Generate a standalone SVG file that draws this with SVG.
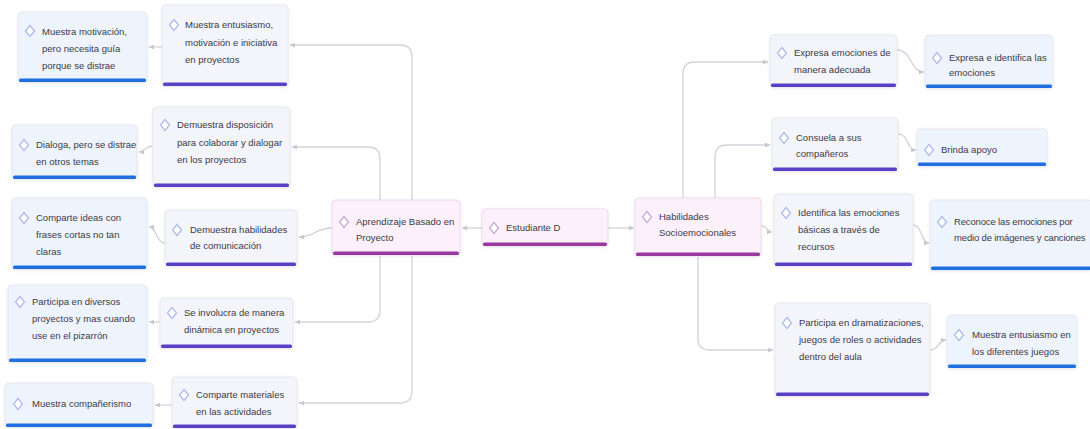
<svg xmlns="http://www.w3.org/2000/svg" width="1090" height="429" viewBox="0 0 1090 429">
<defs>
<filter id="sh" x="-10%" y="-10%" width="120%" height="130%">
<feDropShadow dx="0" dy="1" stdDeviation="1.5" flood-color="#9090a8" flood-opacity="0.22"/>
</filter>
<marker id="ar" viewBox="0 0 6 6" refX="6" refY="3" markerWidth="5" markerHeight="5" markerUnits="userSpaceOnUse" orient="auto">
<path d="M0,0 L6,3 L0,6 Z" fill="#c8c8d0"/>
</marker>
<path id="dm" d="M0,-5.5 L4.5,0 L0,5.5 L-4.5,0 Z"/>
</defs>
<style>
text{font-family:"Liberation Sans",Arial,sans-serif;font-size:9.5px;fill:#3a3a46}
.box{stroke:#e4e4ee;stroke-width:0.8;filter:url(#sh)}
.blue .box{fill:#eef4fd}
.purple .box{fill:#f4f4fb}
.center .box{fill:#fcf0fa;stroke:#f0d4ec}
.blue .bar{fill:#1f6fe0}
.purple .bar{fill:#5a40c6}
.center .bar{fill:#98399f}
.ic{fill:#ffffff;stroke:#aab8ee;stroke-width:1.2}
.center .ic{stroke:#c8a6d8}
.tight{letter-spacing:-0.15px}
.conn path{fill:none;stroke:#d2d2da;stroke-width:1.3;marker-end:url(#ar)}
</style>

<g id="connectors" class="conn">
<path d="M482,228 H462"/>
<path d="M608,228 H634"/>
<path d="M412,200 V57 Q412,45 400,45 H290"/>
<path d="M380,200 V159 Q380,147 368,147 H292"/>
<path d="M332,228 C315,228 315,237 299,237"/>
<path d="M380,256 V310 Q380,322 368,322 H295"/>
<path d="M412,256 V391 Q412,403 400,403 H299"/>
<path d="M683,198 V74 Q683,62 695,62 H768"/>
<path d="M715,198 V157 Q715,145 727,145 H770"/>
<path d="M761,226 C768,226 767,232 772,232"/>
<path d="M698,257 V338 Q698,350 710,350 H773"/>
<path d="M162,47 H149"/>
<path d="M153,146 C145,146 145,152 139,152"/>
<path d="M165,243 C156,243 157,227 149,227"/>
<path d="M160,322 H149"/>
<path d="M172,405 H155"/>
<path d="M897,50 C912,50 910,72 924,72"/>
<path d="M898,134 C909,134 906,150 916,150"/>
<path d="M913,225 C922,225 921,243 929,243"/>
<path d="M930,350 C939,350 938,340 946,340"/>
</g>

<!-- Left leaves -->
<g id="n-l1" class="blue">
<rect class="box" x="18" y="12" width="129" height="70" rx="4"/>
<rect class="bar" x="19" y="78.5" width="127" height="3.5" rx="1.5"/>
<use href="#dm" class="ic" x="30" y="31"/>
<text x="42" y="35">Muestra motivación,</text>
<text x="42" y="52">pero necesita guía</text>
<text x="42" y="69">porque se distrae</text>
</g>
<g id="n-l2" class="blue">
<rect class="box" x="12" y="125" width="125" height="54" rx="4"/>
<rect class="bar" x="13" y="175.5" width="123" height="3.5" rx="1.5"/>
<use href="#dm" class="ic" x="24" y="145"/>
<text x="36" y="148">Dialoga, pero se distrae</text>
<text x="36" y="165">en otros temas</text>
</g>
<g id="n-l3" class="blue">
<rect class="box" x="12" y="198" width="135" height="71" rx="4"/>
<rect class="bar" x="13" y="265.5" width="133" height="3.5" rx="1.5"/>
<use href="#dm" class="ic" x="24" y="218"/>
<text x="36" y="221">Comparte ideas con</text>
<text x="36" y="238">frases cortas no tan</text>
<text x="36" y="255">claras</text>
</g>
<g id="n-l4" class="blue">
<rect class="box" x="8" y="285" width="139" height="77" rx="4"/>
<rect class="bar" x="9" y="358.5" width="137" height="3.5" rx="1.5"/>
<use href="#dm" class="ic" x="20" y="302"/>
<text x="32" y="305">Participa en diversos</text>
<text x="32" y="322">proyectos y mas cuando</text>
<text x="32" y="339">use en el pizarrón</text>
</g>
<g id="n-l5" class="blue">
<rect class="box" x="5" y="383" width="148" height="44" rx="4"/>
<rect class="bar" x="6" y="423.5" width="146" height="3.5" rx="1.5"/>
<use href="#dm" class="ic" x="18" y="404"/>
<text x="32" y="407">Muestra compañerismo</text>
</g>

<!-- Middle-left column -->
<g id="n-m1" class="purple">
<rect class="box" x="162" y="5" width="126" height="81" rx="4"/>
<rect class="bar" x="163" y="82.5" width="124" height="3.5" rx="1.5"/>
<use href="#dm" class="ic" x="174" y="25"/>
<text x="185" y="28">Muestra entusiasmo,</text>
<text x="185" y="45.5">motivación e iniciativa</text>
<text x="185" y="63">en proyectos</text>
</g>
<g id="n-m2" class="purple">
<rect class="box" x="153" y="107" width="137" height="80" rx="4"/>
<rect class="bar" x="154" y="183.5" width="135" height="3.5" rx="1.5"/>
<use href="#dm" class="ic" x="165" y="125"/>
<text x="177" y="128">Demuestra disposición</text>
<text x="177" y="146">para colaborar y dialogar</text>
<text x="177" y="163">en los proyectos</text>
</g>
<g id="n-m3" class="purple">
<rect class="box" x="165" y="210" width="132" height="56" rx="4"/>
<rect class="bar" x="166" y="262.5" width="130" height="3.5" rx="1.5"/>
<use href="#dm" class="ic" x="177" y="230"/>
<text x="190" y="233">Demuestra habilidades</text>
<text x="190" y="249">de comunicación</text>
</g>
<g id="n-m4" class="purple">
<rect class="box" x="160" y="298" width="133" height="50" rx="4"/>
<rect class="bar" x="161" y="344.5" width="131" height="3.5" rx="1.5"/>
<use href="#dm" class="ic" x="172" y="313"/>
<text x="184" y="316">Se involucra de manera</text>
<text x="184" y="333">dinámica en proyectos</text>
</g>
<g id="n-m5" class="purple">
<rect class="box" x="172" y="377" width="125" height="51" rx="4"/>
<rect class="bar" x="173" y="424.5" width="123" height="3.5" rx="1.5"/>
<use href="#dm" class="ic" x="184" y="395"/>
<text x="196" y="398">Comparte materiales</text>
<text x="196" y="415">en las actividades</text>
</g>

<!-- Center -->
<g id="n-abp" class="center">
<rect class="box" x="332" y="200" width="128" height="55" rx="4"/>
<rect class="bar" x="333" y="251.5" width="126" height="3.5" rx="1.5"/>
<use href="#dm" class="ic" x="344" y="222"/>
<text x="356" y="225">Aprendizaje Basado en</text>
<text x="356" y="241">Proyecto</text>
</g>
<g id="n-root" class="center">
<rect class="box" x="482" y="209" width="126" height="37" rx="4"/>
<rect class="bar" x="483" y="242.5" width="124" height="3.5" rx="1.5"/>
<use href="#dm" class="ic" x="494" y="228"/>
<text x="506" y="231">Estudiante D</text>
</g>
<g id="n-hse" class="center">
<rect class="box" x="635" y="198" width="126" height="58" rx="4"/>
<rect class="bar" x="636" y="252.5" width="124" height="3.5" rx="1.5"/>
<use href="#dm" class="ic" x="647" y="217"/>
<text x="659" y="220">Habilidades</text>
<text x="659" y="236">Socioemocionales</text>
</g>

<!-- Right column 1 -->
<g id="n-r1" class="purple">
<rect class="box" x="770" y="35" width="127" height="52" rx="4"/>
<rect class="bar" x="771" y="83.5" width="125" height="3.5" rx="1.5"/>
<use href="#dm" class="ic" x="782" y="53"/>
<text x="794" y="56">Expresa emociones de</text>
<text x="794" y="73">manera adecuada</text>
</g>
<g id="n-r2" class="purple">
<rect class="box" x="772" y="118" width="126" height="53" rx="4"/>
<rect class="bar" x="773" y="167.5" width="124" height="3.5" rx="1.5"/>
<use href="#dm" class="ic" x="784" y="138"/>
<text x="796" y="141">Consuela a sus</text>
<text x="796" y="157">compañeros</text>
</g>
<g id="n-r3" class="purple">
<rect class="box" x="774" y="194" width="139" height="72" rx="4"/>
<rect class="bar" x="775" y="262.5" width="137" height="3.5" rx="1.5"/>
<use href="#dm" class="ic" x="786" y="213"/>
<text x="798" y="216">Identifica las emociones</text>
<text x="798" y="233">básicas a través de</text>
<text x="798" y="250">recursos</text>
</g>
<g id="n-r4" class="purple">
<rect class="box" x="775" y="303" width="155" height="93" rx="4"/>
<rect class="bar" x="776" y="392.5" width="153" height="3.5" rx="1.5"/>
<use href="#dm" class="ic" x="787" y="323"/>
<text x="799" y="326">Participa en dramatizaciones,</text>
<text x="799" y="343">juegos de roles o actividades</text>
<text x="799" y="360">dentro del aula</text>
</g>

<!-- Right column 2 -->
<g id="n-b1" class="blue">
<rect class="box" x="925" y="35" width="128" height="53" rx="4"/>
<rect class="bar" x="926" y="84.5" width="126" height="3.5" rx="1.5"/>
<use href="#dm" class="ic" x="937" y="58"/>
<text x="949" y="61">Expresa e identifica las</text>
<text x="949" y="76">emociones</text>
</g>
<g id="n-b2" class="blue">
<rect class="box" x="917" y="129" width="130" height="37" rx="4"/>
<rect class="bar" x="918" y="162.5" width="128" height="3.5" rx="1.5"/>
<use href="#dm" class="ic" x="929" y="150"/>
<text x="941" y="153">Brinda apoyo</text>
</g>
<g id="n-b3" class="blue">
<rect class="box" x="930" y="200" width="162" height="70" rx="4"/>
<rect class="bar" x="931" y="266.5" width="160" height="3.5" rx="1.5"/>
<use href="#dm" class="ic" x="942" y="222"/>
<text class="tight" x="954" y="225">Reconoce las emociones por</text>
<text class="tight" x="954" y="241">medio de imágenes y canciones</text>
</g>
<g id="n-b4" class="blue">
<rect class="box" x="947" y="315" width="130" height="53" rx="4"/>
<rect class="bar" x="948" y="364.5" width="128" height="3.5" rx="1.5"/>
<use href="#dm" class="ic" x="959" y="335"/>
<text x="972" y="338">Muestra entusiasmo en</text>
<text x="972" y="355">los diferentes juegos</text>
</g>
</svg>
